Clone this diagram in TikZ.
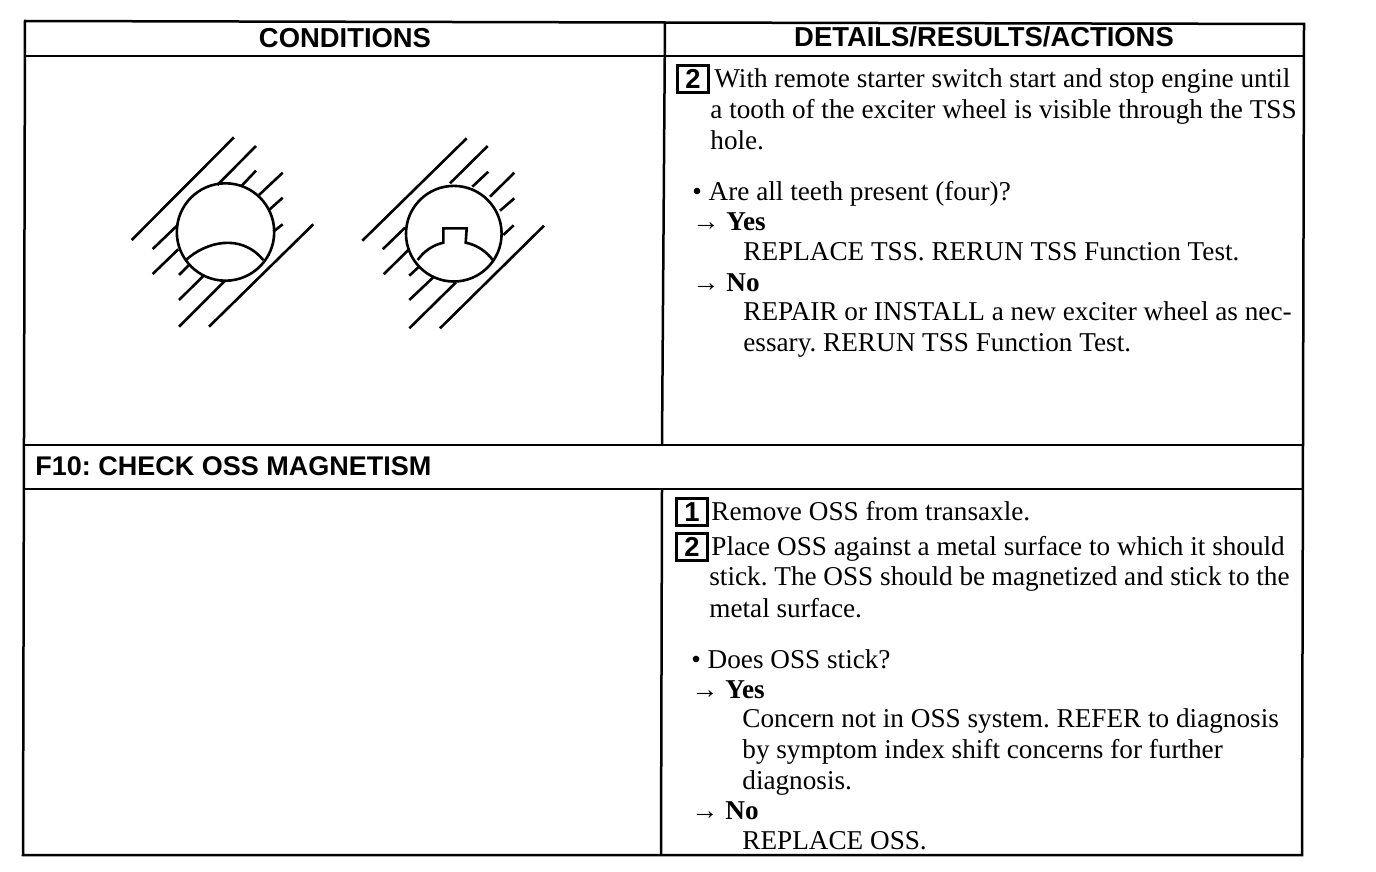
\documentclass[tikz,border=0pt]{standalone}
\usepackage{fontspec}
\setmainfont{Liberation Serif}
\setsansfont{Liberation Sans}
\newcommand{\bodysize}{\fontsize{13.6}{15}\selectfont\frenchspacing}
\newcommand{\headsize}{\fontsize{13.7}{15}\selectfont\frenchspacing}
\tikzset{
  rule/.style={line width=1.25pt},
  sketch/.style={line width=1.3pt},
  head/.style={font=\headsize\sffamily\bfseries,anchor=base,inner sep=0pt},
  body/.style={font=\bodysize,anchor=base west,inner sep=0pt},
  stepnum/.style={draw,line width=1.4pt,font=\headsize\sffamily\bfseries,
    minimum width=15.5pt,minimum height=13.5pt,inner sep=0pt,anchor=center},
}
\begin{document}
\begin{tikzpicture}[x=0.5pt,y=-0.5pt]
  \useasboundingbox (0,0) rectangle (1376,872);

  % table rules
  \draw[rule] (25,21) -- (1304,24) -- (1302,855) -- (23,855) -- cycle;
  \draw[rule] (25,56) -- (1304,56);
  \draw[rule] (24,445) -- (1303,445);
  \draw[rule] (24,489) -- (1303,489);
  \draw[rule] (665,22) -- (662,445);
  \draw[rule] (662,489) -- (661,855);

  % headings
  \node[head] (cond) at (345,48) {CONDITIONS};
  \node[head] (dra) at (984,47) {DETAILS/RESULTS/ACTIONS};
  \node[head,anchor=base west] (ften) at (35,475)
    {\fontsize{13.5}{15}\selectfont F10: CHECK OSS MAGNETISM};

  % left sketch
  \draw[sketch] (225.5,232) circle (48.7);
  \draw[sketch] (186.7,259.3) .. controls (205,243) and (240,232) .. (263.3,260);
  \draw[sketch] (131.7,240) -- (234,137.3);
  \draw[sketch] (217.3,185) -- (256,146);
  \draw[sketch] (152.7,249) -- (177.7,225);
  \draw[sketch] (241.7,185.7) -- (256,170.7);
  \draw[sketch] (152.7,274) -- (178.3,249.3);
  \draw[sketch] (259,195) -- (282.7,172.7);
  \draw[sketch] (179,275) -- (190,264);
  \draw[sketch] (269,210) -- (282.7,197.7);
  \draw[sketch] (179,300) -- (203.3,276);
  \draw[sketch] (273.3,231.7) -- (282.7,224.3);
  \draw[sketch] (179,326.7) -- (225,280.7);
  \draw[sketch] (209,326.7) -- (313.3,224.3);

  % right sketch
  \draw[sketch] (453.8,233.7) circle (47.8);
  \draw[sketch] (417.7,260) .. controls (424,251) and (433,245) .. (443.3,242.7)
    -- (443.3,228.3) -- (466.7,228.3) -- (465.7,242.7)
    .. controls (477,245) and (486,251) .. (493.3,260.7);
  \draw[sketch] (362.3,240.7) -- (466.7,138.3);
  \draw[sketch] (450,183.3) -- (487.7,146);
  \draw[sketch] (382.7,249.3) -- (405,227.7);
  \draw[sketch] (472.3,186.7) -- (488.3,171.7);
  \draw[sketch] (383.7,274.3) -- (408.3,250);
  \draw[sketch] (490,196.7) -- (514.3,172.7);
  \draw[sketch] (409.3,275.7) -- (419,266.7);
  \draw[sketch] (500,210.7) -- (514.3,198.3);
  \draw[sketch] (409.3,300) -- (433.3,277.3);
  \draw[sketch] (503.3,235) -- (513.7,225.3);
  \draw[sketch] (409.3,328.3) -- (456,282.3);
  \draw[sketch] (440,328.3) -- (544,225.7);

  % upper text
  \node[stepnum] (stepa) at (693,79) {2};
  \node[body] (la) at (714,88) {With remote starter switch start and stop engine until};
  \node[body] (lb) at (710,119) {a tooth of the exciter wheel is visible through the TSS};
  \node[body] (lc) at (710,149) {hole.};
  \node[body] (ld) at (692,200) {• Are all teeth present (four)?};
  \node[body] (le) at (692,230) {→ \textbf{Yes}};
  \node[body] (lf) at (743,260) {REPLACE TSS. RERUN TSS Function Test.};
  \node[body] (lg) at (692,291) {→ \textbf{No}};
  \node[body] (lh) at (743,320) {REPAIR or INSTALL a new exciter wheel as nec-};
  \node[body] (li) at (743,351) {essary. RERUN TSS Function Test.};

  % lower text
  \node[stepnum] (stepb) at (692,512) {1};
  \node[stepnum] (stepc) at (692,547) {2};
  \node[body] (ma) at (711,520) {Remove OSS from transaxle.};
  \node[body] (mb) at (711,555) {Place OSS against a metal surface to which it should};
  \node[body] (mc) at (709,585) {stick. The OSS should be magnetized and stick to the};
  \node[body] (md) at (709,617) {metal surface.};
  \node[body] (me) at (691,668) {• Does OSS stick?};
  \node[body] (mf) at (691,698) {→ \textbf{Yes}};
  \node[body] (mg) at (742,727) {Concern not in OSS system. REFER to diagnosis};
  \node[body] (mh) at (742,758) {by symptom index shift concerns for further};
  \node[body] (mi) at (742,789) {diagnosis.};
  \node[body] (mj) at (691,819) {→ \textbf{No}};
  \node[body] (mk) at (742,849) {REPLACE OSS.};
\end{tikzpicture}
\end{document}
